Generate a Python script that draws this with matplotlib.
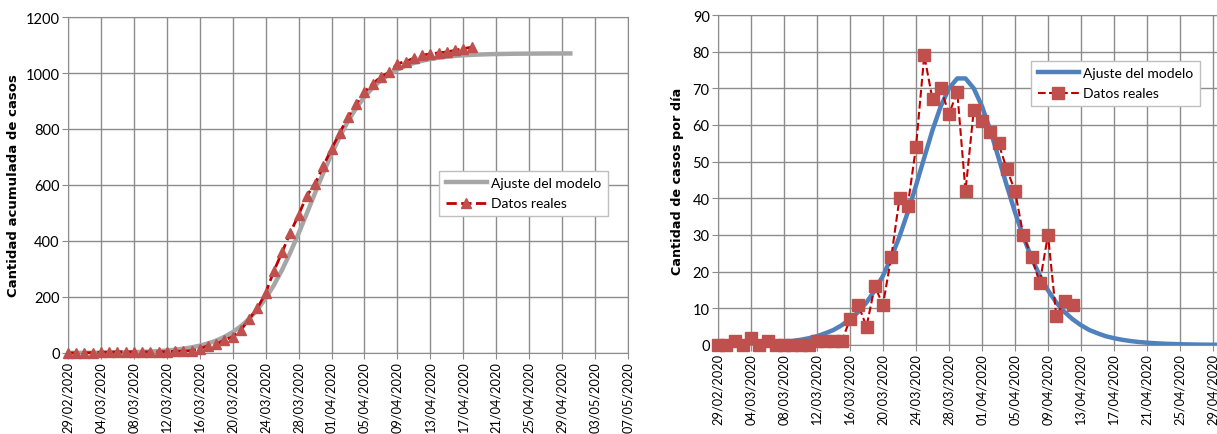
import matplotlib.pyplot as plt
import numpy as np

# dias desde 29/02/2020
date_ticks = ["29/02/2020", "04/03/2020", "08/03/2020", "12/03/2020", "16/03/2020",
              "20/03/2020", "24/03/2020", "28/03/2020", "01/04/2020", "05/04/2020",
              "09/04/2020", "13/04/2020", "17/04/2020", "21/04/2020", "25/04/2020",
              "29/04/2020", "03/05/2020", "07/05/2020"]

# casos diarios reales 29/02 -> 12/04
daily_real = [0, 0, 1, 0, 2, 0, 1, 0, 0, 0, 0, 0, 1, 1, 1, 1,
              7, 11, 5, 16, 11, 24, 40, 38, 54, 79, 67, 70, 63, 69, 42, 64,
              61, 58, 55, 48, 42, 30, 24, 17, 30, 8, 12, 11]

# acumulados reales 29/02 -> 18/04
cum_real = [0, 0, 1, 1, 3, 3, 4, 4, 4, 4, 4, 4, 5, 6, 7, 8,
            15, 26, 31, 47, 58, 82, 122, 160, 214, 293, 360, 430, 493, 562, 604, 668,
            729, 787, 842, 890, 932, 962, 986, 1003, 1033, 1041, 1053, 1064,
            1068, 1072, 1075, 1081, 1087, 1092]

# ajuste del modelo 29/02 -> 30/04
daily_model = [0.09, 0.12, 0.16, 0.21, 0.28, 0.36, 0.48, 0.63, 0.82, 1.08, 1.42, 1.85,
               2.4, 3.2, 4.1, 5.4, 7.0, 9.0, 11.6, 14.9, 18.9, 23.8, 29.6, 36.2,
               43.5, 51.1, 58.6, 65.1, 70.0, 72.7, 72.7, 70.0, 65.1, 58.6, 51.1, 43.5,
               36.2, 29.6, 23.8, 18.9, 14.9, 11.6, 9.0, 7.0, 5.4, 4.1, 3.2, 2.4,
               1.85, 1.42, 1.08, 0.82, 0.63, 0.48, 0.36, 0.28, 0.21, 0.16, 0.12, 0.09,
               0.07, 0.05]

cum_model = [0.34, 0.45, 0.59, 0.77, 1.0, 1.33, 1.75, 2.3, 3.0, 4.0, 5.2, 6.8,
             8.9, 11.7, 15.3, 20.1, 26.2, 34.2, 44.4, 57.6, 74.5, 95.7, 122.3, 155.2,
             195.0, 242.3, 297.2, 359.2, 427.0, 498.5, 571.5, 643.0, 710.8, 772.8, 827.7, 875.0,
             914.8, 947.7, 974.3, 995.5, 1012.4, 1025.6, 1035.8, 1043.8, 1049.9, 1054.7, 1058.3, 1061.1,
             1063.2, 1064.8, 1066.0, 1067.0, 1067.7, 1068.2, 1068.7, 1069.0, 1069.2, 1069.4, 1069.6, 1069.7,
             1069.7, 1069.8]

plt.rcParams['font.family'] = ['Lato', 'DejaVu Sans']

W, H = 1217, 435
fig = plt.figure(figsize=(W / 100, H / 100), dpi=100)

ax1 = fig.add_axes([68 / W, (H - 354) / H, 560 / W, 336 / H])
ax2 = fig.add_axes([718 / W, (H - 346) / H, 561 / W, 330 / H])

grid_c = '#8c8c8c'
tick_pos = np.arange(0, 69, 4)

for ax in (ax1, ax2):
    ax.set_xlim(0, 68)
    ax.set_xticks(tick_pos)
    ax.set_xticklabels(date_ticks, rotation=90)
    ax.grid(True, color=grid_c, lw=1)
    ax.set_axisbelow(True)
    for s in ax.spines.values():
        s.set_color(grid_c)
    ax.tick_params(direction='out', length=4, color=grid_c, labelsize=10.5, pad=2)
    ax.tick_params(axis='x', labelsize=9.2)

# izquierda: acumulados
ax1.plot(np.arange(len(cum_model)), cum_model, color='#A6A6A6', lw=3.2,
         label='Ajuste del modelo', zorder=2)
ax1.plot(np.arange(len(cum_real)), cum_real, color='#C00000', ls='--', lw=2,
         marker='^', ms=7.5, mfc='#C0504D', mec='#C0504D', label='Datos reales',
         zorder=3, clip_on=False)
ax1.set_ylim(0, 1200)
ax1.set_yticks(np.arange(0, 1201, 200))
ax1.set_ylabel('Cantidad acumulada de casos', family='DejaVu Sans',
               fontweight='bold', fontsize=9.5, labelpad=4)
leg1 = ax1.legend(loc='upper right', bbox_to_anchor=(0.964, 0.542), fontsize=10,
                  handlelength=3.0, handletextpad=0.3, numpoints=1, fancybox=False,
                  framealpha=1, edgecolor='#bfbfbf', borderpad=0.45, labelspacing=0.6,
                  borderaxespad=0)

# derecha: casos por dia
ax2.plot(np.arange(len(daily_model)), daily_model, color='#4F81BD', lw=3.2,
         label='Ajuste del modelo', zorder=2)
ax2.plot(np.arange(len(daily_real)), daily_real, color='#C00000', ls='--', lw=1.5,
         marker='s', ms=8, mfc='#C0504D', mec='#C0504D', label='Datos reales',
         zorder=3, clip_on=False)
ax2.set_ylim(0, 90)
ax2.set_yticks(np.arange(0, 91, 10))
ax2.set_ylabel('Cantidad de casos por día', family='DejaVu Sans',
               fontweight='bold', fontsize=9.2, labelpad=6)
leg2 = ax2.legend(loc='upper right', bbox_to_anchor=(0.859, 0.861), fontsize=10,
                  handlelength=3.0, handletextpad=0.3, numpoints=1, fancybox=False,
                  framealpha=1, edgecolor='#bfbfbf', borderpad=0.45, labelspacing=0.6,
                  borderaxespad=0)
for leg in (leg1, leg2):
    leg.get_frame().set_linewidth(1)

fig.savefig('out.png', dpi=100)
